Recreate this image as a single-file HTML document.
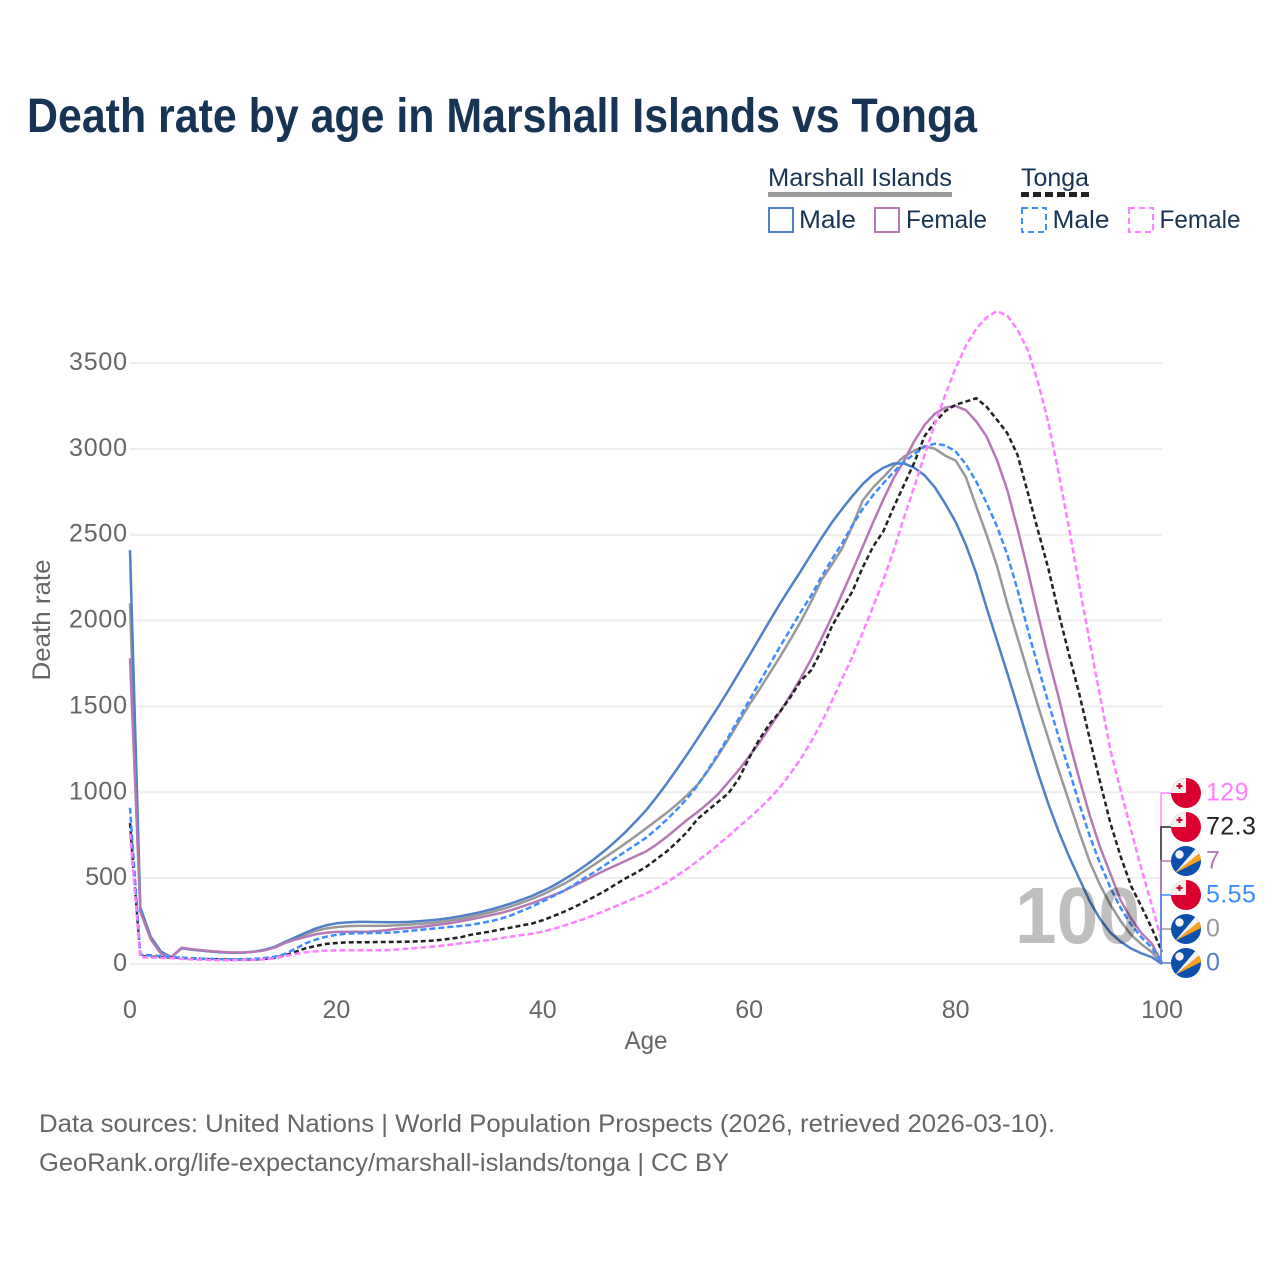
<!DOCTYPE html>
<html lang="en">
<head>
<meta charset="utf-8">
<title>Death rate by age in Marshall Islands vs Tonga</title>
<style>
html,body{margin:0;padding:0;background:#fff;width:1280px;height:1280px;overflow:hidden}
svg{display:block;font-family:"Liberation Sans",sans-serif}
</style>
</head>
<body>
<svg id="chart" xmlns="http://www.w3.org/2000/svg" width="1280" height="1280" viewBox="0 0 1280 1280">
  <defs>
    <clipPath id="flag-clip"><circle cx="0" cy="0" r="15"></circle></clipPath>
  </defs>
  <rect x="0" y="0" width="1280" height="1280" fill="#ffffff"></rect>
  <text x="27" y="132" font-size="48" font-weight="700" fill="#173454" textLength="950" lengthAdjust="spacingAndGlyphs">Death rate by age in Marshall Islands vs Tonga</text>

  <g font-size="25" fill="#173454">
    <text x="768" y="186" textLength="184" lengthAdjust="spacingAndGlyphs">Marshall Islands</text>
    <rect x="768" y="192" width="184" height="5" fill="#999999"></rect>
    <text x="1021" y="186" textLength="68" lengthAdjust="spacingAndGlyphs">Tonga</text>
    <line x1="1021" y1="194.5" x2="1089" y2="194.5" stroke="#222222" stroke-width="5" stroke-dasharray="8 4"></line>
    <rect x="769" y="208" width="24" height="24" fill="none" stroke="#5080c8" stroke-width="2"></rect>
    <text x="799" y="228" textLength="57" lengthAdjust="spacingAndGlyphs">Male</text>
    <rect x="875" y="208" width="24" height="24" fill="none" stroke="#b57ab5" stroke-width="2"></rect>
    <text x="906" y="228" textLength="81" lengthAdjust="spacingAndGlyphs">Female</text>
    <rect x="1022" y="208" width="24" height="24" fill="none" stroke="#3f8cff" stroke-width="2" stroke-dasharray="6 4"></rect>
    <text x="1052.500" y="228" textLength="57" lengthAdjust="spacingAndGlyphs">Male</text>
    <rect x="1129" y="208" width="24" height="24" fill="none" stroke="#ff80ff" stroke-width="2" stroke-dasharray="6 4"></rect>
    <text x="1159.500" y="228" textLength="81" lengthAdjust="spacingAndGlyphs">Female</text>
  </g>

  <g id="grid"></g>
  <g id="y-axis" font-size="25" fill="#666666"></g>
  <g id="x-axis" font-size="25" fill="#666666"></g>
  <text transform="translate(50,620) rotate(-90)" text-anchor="middle" font-size="25" fill="#666666" textLength="121" lengthAdjust="spacingAndGlyphs">Death rate</text>
  <text x="646" y="1049" text-anchor="middle" font-size="25" fill="#666666" textLength="43" lengthAdjust="spacingAndGlyphs">Age</text>

  <g id="series"></g>
  <g id="connectors"></g>
  <text x="1015" y="943" font-size="80" font-weight="700" fill="#000000" fill-opacity="0.25" textLength="125" lengthAdjust="spacingAndGlyphs">100</text>
  <g id="end-labels"></g>

  <g font-size="25" fill="#666666">
    <text x="39" y="1132" textLength="1016" lengthAdjust="spacingAndGlyphs">Data sources: United Nations | World Population Prospects (2026, retrieved 2026-03-10).</text>
    <text x="39" y="1171" textLength="690" lengthAdjust="spacingAndGlyphs">GeoRank.org/life-expectancy/marshall-islands/tonga | CC BY</text>
  </g>
</svg>
<script>
const yTicks = [0, 500, 1000, 1500, 2000, 2500, 3000, 3500];
const xTicks = [0, 20, 40, 60, 80, 100];

const marshallTotal = [
  2100,320,152,66,40,92,84,78,72,68,
  65,66,71,80,98,125,150,173,193,207,
  215,220,222,222,222,223,226,229,233,238,
  245,253,263,275,288,302,318,337,358,380,
  405,435,465,500,540,580,620,660,702,745,
  790,835,880,930,985,1045,1125,1215,1310,1410,
  1510,1600,1695,1790,1890,1995,2110,2235,2325,2420,
  2550,2700,2775,2835,2900,2955,2990,3015,3000,2960,
  2932,2835,2665,2500,2320,2100,1900,1700,1500,1310,
  1125,945,765,595,460,345,250,170,115,70,
  0];
const marshallMale = [
  2410,330,159,72,40,92,84,78,72,68,
  66,67,72,82,100,128,155,182,207,225,
  237,242,245,245,244,243,243,245,249,254,
  260,268,278,290,303,318,335,354,375,398,
  425,455,490,527,568,612,660,712,768,830,
  895,970,1050,1135,1222,1312,1405,1498,1595,1695,
  1795,1898,2000,2100,2195,2288,2385,2480,2570,2650,
  2725,2795,2850,2890,2915,2915,2890,2845,2775,2680,
  2575,2440,2275,2075,1885,1695,1500,1300,1110,930,
  770,625,495,365,262,182,130,90,62,40,
  0];
const marshallFemale = [
  1780,305,145,60,40,95,86,80,74,70,
  67,67,71,79,95,122,142,158,173,182,
  187,188,188,188,192,198,205,210,215,222,
  230,238,248,260,272,285,298,315,335,355,
  378,400,425,455,485,515,545,572,600,628,
  655,695,740,790,840,885,935,990,1060,1130,
  1210,1290,1380,1470,1565,1665,1775,1895,2020,2155,
  2290,2430,2570,2705,2830,2930,3045,3140,3205,3240,
  3250,3225,3160,3072,2936,2762,2535,2290,2030,1780,
  1550,1300,1075,865,680,525,370,265,180,120,
  7];
const tongaTotal = [
  820,45,42,40,38,35,32,30,28,26,
  25,26,27,30,36,50,70,91,105,117,
  122,126,127,127,128,128,129,130,132,135,
  140,147,155,170,180,190,202,213,225,236,
  255,278,303,330,360,392,425,462,498,530,
  565,610,655,710,770,845,895,945,995,1080,
  1200,1310,1400,1470,1555,1650,1710,1825,1965,2070,
  2170,2310,2430,2520,2660,2790,2920,3075,3155,3220,
  3257,3275,3295,3245,3170,3092,2965,2745,2520,2300,
  2040,1800,1570,1310,1060,820,625,455,335,210,
  72.3];
const tongaMale = [
  910,55,50,45,40,37,34,31,29,28,
  27,28,30,34,42,58,88,120,142,159,
  170,177,179,180,181,182,186,192,198,204,
  210,216,221,228,238,250,265,285,310,335,
  365,395,425,460,500,535,575,615,655,695,
  735,785,840,900,965,1040,1130,1225,1325,1430,
  1535,1640,1745,1850,1950,2050,2145,2255,2355,2450,
  2555,2650,2730,2800,2865,2925,2970,3012,3030,3020,
  2985,2910,2810,2684,2550,2385,2180,1945,1730,1520,
  1320,1130,930,745,585,445,325,230,155,97,
  5.55];
const tongaFemale = [
  760,40,38,36,34,30,27,25,23,22,
  22,23,24,27,33,46,58,68,74,78,
  79,80,80,80,80,81,85,90,95,100,
  105,112,120,127,134,142,151,160,169,177,
  189,204,222,242,262,285,310,335,360,385,
  410,440,475,515,555,600,645,695,745,800,
  850,905,965,1030,1110,1195,1295,1405,1530,1660,
  1790,1930,2080,2235,2410,2600,2780,2965,3145,3315,
  3470,3600,3700,3765,3802,3775,3695,3575,3385,3150,
  2855,2535,2200,1875,1560,1246,1010,780,555,345,
  129];

const seriesNames = ['marshall-total', 'marshall-male', 'marshall-female', 'tonga-total', 'tonga-male', 'tonga-female'];
const seriesValues = [marshallTotal, marshallMale, marshallFemale, tongaTotal, tongaMale, tongaFemale];
const seriesColors = ['#999999', '#5080c8', '#b57ab5', '#222222', '#3f8cff', '#ff80ff'];
const seriesDash = ['', '', '', '5 3', '6 3', '6 3'];
const seriesCountry = ['marshall', 'marshall', 'marshall', 'tonga', 'tonga', 'tonga'];

const NS = 'http://www.w3.org/2000/svg';
function xScale(age) { return 130 + age * 10.32; }
function yScale(v) { return 964 - v * 0.17172; }
function make(tag, attrs, parent, text) {
  const el = document.createElementNS(NS, tag);
  for (const k in attrs) el.setAttribute(k, attrs[k]);
  if (text !== undefined) el.textContent = text;
  parent.appendChild(el);
  return el;
}

const gridG = document.getElementById('grid');
const yG = document.getElementById('y-axis');
const xG = document.getElementById('x-axis');
const seriesG = document.getElementById('series');
const connG = document.getElementById('connectors');
const labelG = document.getElementById('end-labels');

yTicks.forEach(function (t) {
  const line = make('line', { x1: xScale(0), x2: xScale(100), y1: yScale(t), y2: yScale(t), stroke: '#eeeeee', 'stroke-width': 2 }, gridG);
  
  
  const lab = make('text', { x: 127, y: yScale(t) + 7, 'text-anchor': 'end' }, yG, String(t));
  
  
  if (String(t).length === 4) lab.setAttribute('textLength', '58');
});

xTicks.forEach(function (t) {
  const lab = make('text', { x: xScale(t), y: 1018, 'text-anchor': 'middle' }, xG, String(t));
  
  
});

seriesValues.forEach(function (vals, i) {
  const pts = vals.map(function (v, age) { return xScale(age).toFixed(2) + ',' + yScale(v).toFixed(2); }).join(' ');
  const line = make('polyline', { points: pts, fill: 'none', stroke: seriesColors[i], 'stroke-width': 2.5, 'stroke-linejoin': 'round' }, seriesG);
  if (seriesDash[i]) line.setAttribute('stroke-dasharray', seriesDash[i]);
  
  
});

function drawFlag(parent, country, cy) {
  const g = make('g', { transform: 'translate(1186,' + cy + ')' }, parent);
  
  
  const inner = make('g', { 'clip-path': 'url(#flag-clip)' }, g);
  if (country === 'tonga') {
    make('rect', { x: -15, y: -15, width: 30, height: 30, fill: '#d9002f' }, inner);
    make('rect', { x: -15, y: -15, width: 15, height: 15, fill: '#f3efef' }, inner);
    make('rect', { x: -9.5, y: -8, width: 6, height: 2, fill: '#d9002f' }, inner);
    make('rect', { x: -7.5, y: -10, width: 2, height: 6, fill: '#d9002f' }, inner);
  } else {
    make('rect', { x: -15, y: -15, width: 30, height: 30, fill: '#0b50ad' }, inner);
    make('polygon', { points: '-11,12 11,-14 15,-9', fill: '#f4f4f4' }, inner);
    make('polygon', { points: '-11,12 15,-9 17,-2', fill: '#f7a11e' }, inner);
    make('circle', { cx: -6.5, cy: -6.5, r: 4.2, fill: '#f4f4f4' }, inner);
  }
}

// end labels: stacked from the bottom, ordered by the final value of each series
const drawOrder = [5, 3, 2, 0, 4, 1];
const stackOrder = seriesValues.map(function (v, i) { return i; }).sort(function (a, b) {
  const d = seriesValues[a][100] - seriesValues[b][100];
  if (d !== 0) return d;
  return a === 1 ? -1 : 1;
});
drawOrder.forEach(function (i) {
  const slot = stackOrder.indexOf(i);
  const cy = 963 - slot * 34;
  const endX = xScale(100) - 1;
  const conn = make('path', { d: 'M' + endX + ' ' + yScale(seriesValues[i][100]) + ' L' + endX + ' ' + cy + ' L1172 ' + cy, fill: 'none', stroke: seriesColors[i], 'stroke-width': 1.4 }, connG);
  
  
});
drawOrder.forEach(function (i) {
  const slot = stackOrder.indexOf(i);
  const cy = 963 - slot * 34;
  drawFlag(labelG, seriesCountry[i], cy);
  const lab = make('text', { x: 1206, y: cy + 7.5, 'font-size': 25, 'letter-spacing': 0.4, fill: seriesColors[i] }, labelG, String(seriesValues[i][100]));
  
  
});
</script>
</body>
</html>
